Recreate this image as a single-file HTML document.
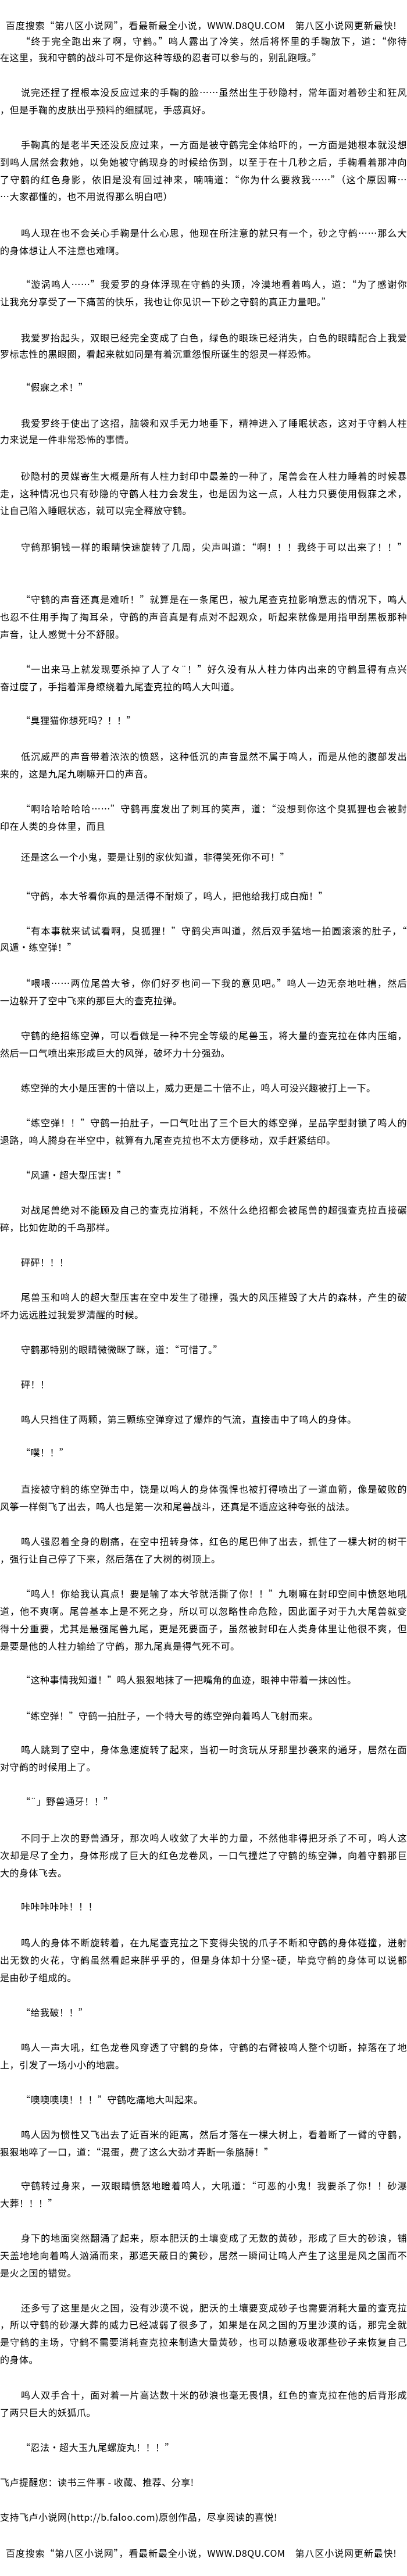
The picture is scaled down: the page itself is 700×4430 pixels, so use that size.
<!DOCTYPE html>
<html><head><meta charset="utf-8">
<style>
html,body{margin:0;padding:0;background:#fff;}
body{width:700px;height:4430px;position:relative;overflow:hidden;font-family:"Noto Sans CJK SC","WenQuanYi Zen Hei",sans-serif;color:#000;font-size:16px;}
.l{position:absolute;left:0;width:700px;height:24px;line-height:24px;overflow:hidden;letter-spacing:0.5px;box-sizing:border-box;white-space:normal;}
.i{padding-left:36px;}
.f{text-align:justify;text-align-last:justify;}
.h{padding-left:10px;padding-right:18px;}
</style></head><body>
<div class="l h f" style="top:31px">百度搜索“第八区小说网”，看最新最全小说，WWW.D8QU.COM　第八区小说网更新最快!</div>
<div class="l i f" style="top:58px">“终于完全跑出来了啊，守鹤。”鸣人露出了冷笑，然后将怀里的手鞠放下，道：“你待</div>
<div class="l" style="top:86px">在这里，我和守鹤的战斗可不是你这种等级的忍者可以参与的，别乱跑哦。”</div>
<div class="l i f" style="top:146px">说完还捏了捏根本没反应过来的手鞠的脸……虽然出生于砂隐村，常年面对着砂尘和狂风</div>
<div class="l" style="top:176px">，但是手鞠的皮肤出乎预料的细腻呢，手感真好。</div>
<div class="l i f" style="top:236px">手鞠真的是老半天还没反应过来，一方面是被守鹤完全体给吓的，一方面是她根本就没想</div>
<div class="l f" style="top:266px">到鸣人居然会救她，以免她被守鹤现身的时候给伤到，以至于在十几秒之后，手鞠看着那冲向</div>
<div class="l f" style="top:296px">了守鹤的红色身影，依旧是没有回过神来，喃喃道：“你为什么要救我……”（这个原因嘛…</div>
<div class="l" style="top:325px">…大家都懂的，也不用说得那么明白吧）</div>
<div class="l i f" style="top:388px">鸣人现在也不会关心手鞠是什么心思，他现在所注意的就只有一个，砂之守鹤……那么大</div>
<div class="l" style="top:418px">的身体想让人不注意也难啊。</div>
<div class="l i f" style="top:476px">“漩涡鸣人……”我爱罗的身体浮现在守鹤的头顶，冷漠地看着鸣人，道：“为了感谢你</div>
<div class="l" style="top:506px">让我充分享受了一下痛苦的快乐，我也让你见识一下砂之守鹤的真正力量吧。”</div>
<div class="l i f" style="top:568px">我爱罗抬起头，双眼已经完全变成了白色，绿色的眼珠已经消失，白色的眼睛配合上我爱</div>
<div class="l" style="top:596px">罗标志性的黑眼圈，看起来就如同是有着沉重怨恨所诞生的怨灵一样恐怖。</div>
<div class="l i" style="top:653px">“假寐之术！”</div>
<div class="l i f" style="top:715px">我爱罗终于使出了这招，脑袋和双手无力地垂下，精神进入了睡眠状态，这对于守鹤人柱</div>
<div class="l" style="top:743px">力来说是一件非常恐怖的事情。</div>
<div class="l i f" style="top:806px">砂隐村的灵媒寄生大概是所有人柱力封印中最差的一种了，尾兽会在人柱力睡着的时候暴</div>
<div class="l f" style="top:836px">走，这种情况也只有砂隐的守鹤人柱力会发生，也是因为这一点，人柱力只要使用假寐之术，</div>
<div class="l" style="top:865px">让自己陷入睡眠状态，就可以完全释放守鹤。</div>
<div class="l i f" style="top:928px">守鹤那铜钱一样的眼睛快速旋转了几周，尖声叫道：“啊！！！我终于可以出来了！！”</div>
<div class="l i f" style="top:1018px">“守鹤的声音还真是难听！”就算是在一条尾巴，被九尾查克拉影响意志的情况下，鸣人</div>
<div class="l f" style="top:1048px">也忍不住用手掏了掏耳朵，守鹤的声音真是有点对不起观众，听起来就像是用指甲刮黑板那种</div>
<div class="l" style="top:1078px">声音，让人感觉十分不舒服。</div>
<div class="l i f" style="top:1138px">“一出来马上就发现要杀掉了人了々¨！”好久没有从人柱力体内出来的守鹤显得有点兴</div>
<div class="l" style="top:1168px">奋过度了，手指着浑身缭绕着九尾查克拉的鸣人大叫道。</div>
<div class="l i" style="top:1226px">“臭狸猫你想死吗？！！”</div>
<div class="l i f" style="top:1288px">低沉威严的声音带着浓浓的愤怒，这种低沉的声音显然不属于鸣人，而是从他的腹部发出</div>
<div class="l" style="top:1318px">来的，这是九尾九喇嘛开口的声音。</div>
<div class="l i f" style="top:1378px">“啊哈哈哈哈哈……”守鹤再度发出了刺耳的笑声，道：“没想到你这个臭狐狸也会被封</div>
<div class="l" style="top:1408px">印在人类的身体里，而且</div>
<div class="l i" style="top:1461px">还是这么一个小鬼，要是让别的家伙知道，非得笑死你不可！”</div>
<div class="l i" style="top:1528px">“守鹤，本大爷看你真的是活得不耐烦了，鸣人，把他给我打成白痴！”</div>
<div class="l i f" style="top:1588px">“有本事就来试试看啊，臭狐狸！”守鹤尖声叫道，然后双手猛地一拍圆滚滚的肚子，“</div>
<div class="l" style="top:1616px">风遁·练空弹！”</div>
<div class="l i f" style="top:1678px">“喂喂……两位尾兽大爷，你们好歹也问一下我的意见吧。”鸣人一边无奈地吐槽，然后</div>
<div class="l" style="top:1708px">一边躲开了空中飞来的那巨大的查克拉弹。</div>
<div class="l i f" style="top:1768px">守鹤的绝招练空弹，可以看做是一种不完全等级的尾兽玉，将大量的查克拉在体内压缩，</div>
<div class="l" style="top:1798px">然后一口气喷出来形成巨大的风弹，破坏力十分强劲。</div>
<div class="l i" style="top:1858px">练空弹的大小是压害的十倍以上，威力更是二十倍不止，鸣人可没兴趣被打上一下。</div>
<div class="l i f" style="top:1918px">“练空弹！！”守鹤一拍肚子，一口气吐出了三个巨大的练空弹，呈品字型封锁了鸣人的</div>
<div class="l" style="top:1948px">退路，鸣人腾身在半空中，就算有九尾查克拉也不太方便移动，双手赶紧结印。</div>
<div class="l i" style="top:2008px">“风遁·超大型压害！”</div>
<div class="l i f" style="top:2068px">对战尾兽绝对不能顾及自己的查克拉消耗，不然什么绝招都会被尾兽的超强查克拉直接碾</div>
<div class="l" style="top:2098px">碎，比如佐助的千鸟那样。</div>
<div class="l i" style="top:2158px">砰砰！！！</div>
<div class="l i f" style="top:2218px">尾兽玉和鸣人的超大型压害在空中发生了碰撞，强大的风压摧毁了大片的森林，产生的破</div>
<div class="l" style="top:2248px">坏力远远胜过我爱罗清醒的时候。</div>
<div class="l i" style="top:2308px">守鹤那特别的眼睛微微眯了眯，道：“可惜了。”</div>
<div class="l i" style="top:2368px">砰！！</div>
<div class="l i" style="top:2428px">鸣人只挡住了两颗，第三颗练空弹穿过了爆炸的气流，直接击中了鸣人的身体。</div>
<div class="l i" style="top:2485px">“噗！！”</div>
<div class="l i f" style="top:2548px">直接被守鹤的练空弹击中，饶是以鸣人的身体强悍也被打得喷出了一道血箭，像是破败的</div>
<div class="l" style="top:2578px">风筝一样倒飞了出去，鸣人也是第一次和尾兽战斗，还真是不适应这种夸张的战法。</div>
<div class="l i f" style="top:2638px">鸣人强忍着全身的剧痛，在空中扭转身体，红色的尾巴伸了出去，抓住了一棵大树的树干</div>
<div class="l" style="top:2668px">，强行让自己停了下来，然后落在了大树的树顶上。</div>
<div class="l i f" style="top:2728px">“鸣人！你给我认真点！要是输了本大爷就活撕了你！！”九喇嘛在封印空间中愤怒地吼</div>
<div class="l f" style="top:2758px">道，他不爽啊。尾兽基本上是不死之身，所以可以忽略性命危险，因此面子对于九大尾兽就变</div>
<div class="l f" style="top:2788px">得十分重要，尤其是最强尾兽九尾，更是死要面子，虽然被封印在人类身体里让他很不爽，但</div>
<div class="l" style="top:2818px">是要是他的人柱力输给了守鹤，那九尾真是得气死不可。</div>
<div class="l i" style="top:2876px">“这种事情我知道！”鸣人狠狠地抹了一把嘴角的血迹，眼神中带着一抹凶性。</div>
<div class="l i" style="top:2938px">“练空弹！”守鹤一拍肚子，一个特大号的练空弹向着鸣人飞射而来。</div>
<div class="l i f" style="top:2996px">鸣人跳到了空中，身体急速旋转了起来，当初一时贪玩从牙那里抄袭来的通牙，居然在面</div>
<div class="l" style="top:3026px">对守鹤的时候用上了。</div>
<div class="l i" style="top:3085px">“¨」野兽通牙！！”</div>
<div class="l i f" style="top:3148px">不同于上次的野兽通牙，那次鸣人收敛了大半的力量，不然他非得把牙杀了不可，鸣人这</div>
<div class="l f" style="top:3178px">次却是尽了全力，身体形成了巨大的红色龙卷风，一口气撞烂了守鹤的练空弹，向着守鹤那巨</div>
<div class="l" style="top:3208px">大的身体飞去。</div>
<div class="l i" style="top:3266px">咔咔咔咔咔！！！</div>
<div class="l i f" style="top:3328px">鸣人的身体不断旋转着，在九尾查克拉之下变得尖锐的爪子不断和守鹤的身体碰撞，迸射</div>
<div class="l f" style="top:3358px">出无数的火花，守鹤虽然看起来胖乎乎的，但是身体却十分坚~硬，毕竟守鹤的身体可以说都</div>
<div class="l" style="top:3388px">是由砂子组成的。</div>
<div class="l i" style="top:3448px">“给我破！！”</div>
<div class="l i f" style="top:3508px">鸣人一声大吼，红色龙卷风穿透了守鹤的身体，守鹤的右臂被鸣人整个切断，掉落在了地</div>
<div class="l" style="top:3538px">上，引发了一场小小的地震。</div>
<div class="l i" style="top:3598px">“噢噢噢噢！！！”守鹤吃痛地大叫起来。</div>
<div class="l i f" style="top:3658px">鸣人因为惯性又飞出去了近百米的距离，然后才落在一棵大树上，看着断了一臂的守鹤，</div>
<div class="l" style="top:3688px">狠狠地啐了一口，道：“混蛋，费了这么大劲才弄断一条胳膊！”</div>
<div class="l i f" style="top:3746px">守鹤转过身来，一双眼睛愤怒地瞪着鸣人，大吼道：“可恶的小鬼！我要杀了你！！砂瀑</div>
<div class="l" style="top:3776px">大葬！！！”</div>
<div class="l i f" style="top:3836px">身下的地面突然翻涌了起来，原本肥沃的土壤变成了无数的黄砂，形成了巨大的砂浪，铺</div>
<div class="l f" style="top:3866px">天盖地地向着鸣人汹涌而来，那遮天蔽日的黄砂，居然一瞬间让鸣人产生了这里是风之国而不</div>
<div class="l" style="top:3896px">是火之国的错觉。</div>
<div class="l i f" style="top:3956px">还多亏了这里是火之国，没有沙漠不说，肥沃的土壤要变成砂子也需要消耗大量的查克拉</div>
<div class="l f" style="top:3985px">，所以守鹤的砂瀑大葬的威力已经减弱了很多了，如果是在风之国的万里沙漠的话，那完全就</div>
<div class="l f" style="top:4015px">是守鹤的主场，守鹤不需要消耗查克拉来制造大量黄砂，也可以随意吸收那些砂子来恢复自己</div>
<div class="l" style="top:4045px">的身体。</div>
<div class="l i f" style="top:4106px">鸣人双手合十，面对着一片高达数十米的砂浪也毫无畏惧，红色的查克拉在他的后背形成</div>
<div class="l" style="top:4136px">了两只巨大的妖狐爪。</div>
<div class="l i" style="top:4196px">“忍法·超大玉九尾螺旋丸！！！”</div>
<div class="l" style="top:4256px">飞卢提醒您：读书三件事 - 收藏、推荐、分享!</div>
<div class="l" style="top:4316px">支持飞卢小说网(http://b.faloo.com)原创作品，尽享阅读的喜悦!</div>
<div class="l h f" style="top:4378px">百度搜索“第八区小说网”，看最新最全小说，WWW.D8QU.COM　第八区小说网更新最快!</div>
</body></html>
